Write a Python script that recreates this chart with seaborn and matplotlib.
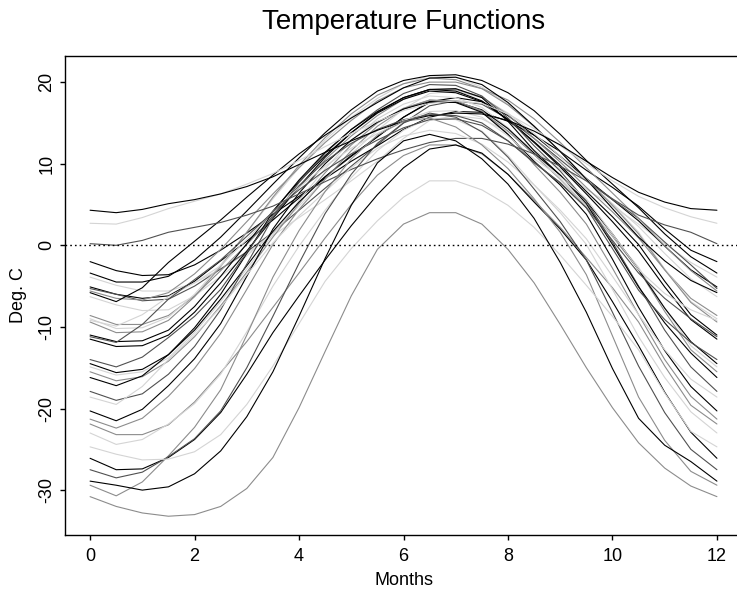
import matplotlib
matplotlib.use("Agg")
import matplotlib.pyplot as plt
import seaborn as sns
import pandas as pd

months = [0, 0.5, 1, 1.5, 2, 2.5, 3, 3.5, 4, 4.5, 5, 5.5, 6,
          6.5, 7, 7.5, 8, 8.5, 9, 9.5, 10, 10.5, 11, 11.5, 12]

st_johns = [-3.9, -4.9, -5.6, -5.6, -4.6, -2.9, -1.0, 1.2, 3.4, 5.6, 7.9, 10.3, 13.1, 15.3, 15.9, 15.5, 13.9, 11.7, 9.3, 6.9, 4.8, 2.6, 0.2, -2.1, -3.9]
halifax = [-5.1, -6.0, -6.5, -6.2, -4.4, -1.9, 0.5, 3.1, 5.8, 8.4, 10.9, 13.3, 15.7, 17.6, 18.1, 17.6, 15.9, 13.5, 10.9, 8.2, 5.6, 3.0, -0.1, -3.0, -5.1]
sydney = [-5.3, -6.0, -6.8, -6.6, -5.0, -2.9, -0.8, 1.6, 4.3, 7.0, 9.7, 12.3, 15.0, 17.1, 17.7, 17.3, 15.5, 13.1, 10.5, 7.9, 5.6, 3.3, 0.4, -2.4, -5.3]
yarmouth = [-2.0, -3.1, -3.7, -3.6, -2.4, -0.6, 1.5, 3.8, 6.0, 8.2, 10.3, 12.2, 14.2, 15.7, 16.4, 16.3, 15.2, 13.5, 11.5, 9.2, 7.1, 4.8, 2.0, -0.6, -2.0]
charlottetown = [-6.3, -7.3, -8.0, -7.9, -6.2, -3.8, -1.3, 1.6, 4.8, 8.1, 11.2, 14.1, 16.7, 18.6, 18.9, 18.1, 16.2, 13.7, 10.9, 7.9, 5.1, 2.3, -1.0, -4.1, -6.3]
fredericton = [-8.6, -9.7, -9.7, -8.6, -6.2, -3.1, 0.1, 3.5, 7.1, 10.5, 13.4, 15.9, 17.9, 19.1, 19.1, 18.2, 16.0, 13.1, 10.2, 7.1, 4.1, 0.9, -3.0, -6.5, -8.6]
scheffervll = [-21.9, -23.2, -23.2, -22.0, -19.2, -15.6, -11.8, -7.6, -3.4, 0.9, 5.0, 8.6, 11.0, 12.3, 12.3, 11.2, 8.7, 5.5, 2.2, -1.5, -5.2, -9.4, -14.8, -19.6, -21.9]
arvida = [-15.5, -16.6, -16.1, -14.2, -11.2, -7.4, -3.3, 1.0, 5.1, 8.9, 12.3, 15.0, 16.8, 17.8, 17.6, 16.4, 14.0, 11.1, 8.1, 4.8, 1.1, -3.0, -8.1, -12.8, -15.5]
bagottville = [-14.9, -15.9, -15.5, -13.8, -10.7, -6.9, -2.9, 1.3, 5.5, 9.4, 12.8, 15.5, 17.3, 18.3, 18.1, 16.9, 14.4, 11.3, 8.2, 4.8, 1.2, -2.7, -7.7, -12.3, -14.9]
quebec = [-11.5, -12.4, -12.3, -11.0, -8.2, -4.6, -0.7, 3.3, 7.2, 10.8, 13.8, 16.3, 18.1, 19.1, 18.9, 17.7, 15.4, 12.6, 9.6, 6.3, 2.9, -0.7, -5.1, -9.1, -11.5]
sherbrooke = [-11.0, -11.8, -11.7, -10.4, -7.5, -3.8, 0.2, 4.2, 7.8, 11.0, 13.8, 16.2, 17.9, 18.9, 18.7, 17.6, 15.4, 12.7, 9.8, 6.6, 3.5, 0.1, -4.4, -8.5, -11.0]
montreal = [-9.0, -10.2, -10.1, -8.8, -6.0, -2.4, 1.6, 5.7, 9.5, 12.9, 15.7, 18.0, 19.8, 20.8, 20.6, 19.4, 17.3, 14.5, 11.5, 8.2, 5.0, 1.6, -2.9, -6.9, -9.0]
ottawa = [-9.4, -10.7, -10.6, -9.2, -6.3, -2.6, 1.6, 5.9, 9.8, 13.2, 16.1, 18.4, 19.8, 20.5, 20.3, 19.2, 17.2, 14.6, 11.5, 8.1, 4.9, 1.4, -3.0, -7.0, -9.4]
toronto = [-3.4, -4.5, -4.5, -3.8, -1.8, 1.0, 4.2, 7.5, 10.7, 13.8, 16.6, 18.9, 20.2, 20.8, 20.9, 20.2, 18.7, 16.5, 13.6, 10.4, 7.5, 4.6, 1.4, -1.4, -3.4]
london = [-5.6, -6.5, -6.7, -5.8, -3.5, -0.5, 2.9, 6.3, 9.5, 12.6, 15.3, 17.7, 19.3, 20.0, 20.0, 19.2, 17.8, 15.5, 12.6, 9.5, 6.4, 3.3, -0.1, -3.1, -5.6]
thunder_bay = [-14.5, -15.6, -15.2, -13.4, -10.4, -6.6, -2.5, 1.7, 5.3, 8.4, 11.0, 13.3, 15.7, 17.5, 17.6, 16.6, 14.3, 11.3, 8.6, 5.4, 1.4, -3.0, -7.7, -11.8, -14.5]
winnipeg = [-17.9, -19.0, -18.2, -15.8, -12.4, -7.9, -2.3, 3.4, 7.7, 11.3, 14.2, 16.6, 18.6, 19.7, 19.6, 18.3, 15.6, 12.2, 9.1, 5.4, 0.4, -5.0, -10.4, -14.9, -17.9]
the_pas = [-21.3, -22.4, -21.2, -18.5, -15.1, -10.8, -5.4, 0.1, 4.4, 8.1, 11.6, 14.6, 16.7, 17.8, 17.7, 16.5, 13.6, 9.9, 6.5, 2.6, -2.8, -8.5, -14.0, -18.5, -21.3]
churchill = [-26.1, -27.5, -27.4, -26.0, -23.8, -20.5, -15.8, -10.7, -6.2, -1.8, 2.4, 6.2, 9.5, 11.8, 12.3, 11.3, 8.7, 5.3, 2.0, -1.8, -6.9, -12.3, -18.0, -22.9, -26.1]
regina = [-16.2, -17.2, -16.0, -13.4, -10.1, -6.0, -1.0, 4.1, 8.0, 11.4, 14.2, 16.4, 18.1, 19.1, 19.2, 18.1, 15.2, 11.6, 8.6, 5.1, 0.1, -5.1, -9.5, -13.2, -16.2]
pr_albert = [-20.3, -21.5, -20.1, -17.2, -13.9, -9.6, -3.8, 2.0, 6.4, 10.0, 12.9, 15.1, 16.7, 17.6, 17.5, 16.3, 13.6, 10.3, 7.4, 3.8, -1.7, -7.6, -12.9, -17.3, -20.3]
uranium_city = [-23.0, -24.4, -23.8, -21.9, -19.4, -15.8, -10.6, -5.0, -0.1, 4.3, 8.3, 11.6, 14.1, 15.6, 15.4, 14.0, 11.0, 7.4, 4.0, 0.1, -5.4, -11.2, -16.2, -20.4, -23.0]
edmonton = [-14.0, -14.9, -13.7, -11.3, -8.7, -5.4, -0.9, 3.7, 7.3, 10.3, 12.5, 14.2, 15.4, 16.0, 15.9, 15.0, 12.8, 10.1, 7.7, 4.6, -0.4, -5.5, -9.1, -11.9, -14.0]
calgary = [-9.2, -9.9, -8.5, -6.3, -4.6, -2.5, 0.7, 4.1, 7.1, 9.7, 11.9, 13.7, 15.3, 16.4, 16.5, 15.7, 13.4, 10.6, 8.4, 5.7, 1.4, -3.0, -5.9, -7.9, -9.2]
kamloops = [-5.8, -6.9, -5.2, -2.1, 0.5, 3.1, 5.9, 8.6, 11.2, 13.5, 15.6, 17.5, 19.3, 20.5, 20.6, 19.7, 17.5, 14.6, 11.5, 8.1, 4.5, 1.0, -1.9, -4.3, -5.8]
vancouver = [2.7, 2.6, 3.4, 4.5, 5.4, 6.3, 7.5, 8.8, 10.4, 12.1, 13.7, 15.2, 16.5, 17.4, 17.7, 17.4, 16.1, 14.3, 12.2, 10.0, 7.9, 6.0, 4.6, 3.5, 2.7]
victoria = [4.3, 4.0, 4.4, 5.1, 5.6, 6.3, 7.2, 8.4, 9.9, 11.4, 12.8, 14.1, 15.2, 15.9, 16.2, 16.1, 15.3, 14.0, 12.3, 10.3, 8.3, 6.5, 5.3, 4.5, 4.3]
pr_george = [-11.2, -11.9, -9.7, -6.6, -4.2, -1.8, 1.1, 4.1, 6.8, 9.2, 11.2, 12.9, 14.4, 15.4, 15.5, 14.7, 12.8, 10.2, 7.6, 4.6, 0.6, -3.4, -6.5, -9.0, -11.2]
pr_rupert = [0.2, 0.0, 0.6, 1.6, 2.2, 2.8, 3.7, 4.8, 6.3, 7.8, 9.3, 10.6, 11.7, 12.6, 13.1, 13.1, 12.4, 11.2, 9.7, 7.9, 5.7, 3.7, 2.5, 1.6, 0.2]
whitehorse = [-18.6, -19.5, -17.3, -14.0, -11.0, -7.6, -3.6, 0.3, 3.6, 6.6, 9.5, 11.9, 13.4, 14.1, 13.7, 12.4, 10.2, 7.4, 4.3, 0.8, -3.8, -8.5, -12.8, -16.4, -18.6]
dawson = [-29.4, -30.7, -29.0, -25.8, -22.3, -17.7, -11.0, -3.9, 1.8, 6.6, 10.6, 13.5, 15.2, 15.6, 14.5, 12.3, 9.4, 5.7, 1.6, -3.6, -11.1, -18.6, -23.9, -27.7, -29.4]
yellowknife = [-27.5, -28.5, -27.8, -25.9, -23.7, -20.3, -15.0, -8.7, -2.2, 3.9, 8.7, 12.5, 15.0, 16.2, 15.7, 13.9, 10.8, 6.9, 2.9, -1.8, -8.2, -14.8, -20.5, -25.0, -27.5]
iqaluit = [-24.7, -25.6, -26.3, -26.2, -25.3, -23.2, -19.5, -14.8, -9.6, -4.4, -0.4, 3.0, 5.9, 7.9, 7.9, 6.8, 4.9, 2.2, -1.2, -4.9, -8.7, -12.8, -18.1, -22.8, -24.7]
inuvik = [-28.9, -29.4, -30.0, -29.6, -28.0, -25.2, -21.0, -15.5, -8.7, -1.6, 4.9, 10.1, 12.8, 13.6, 12.8, 10.6, 7.5, 3.3, -2.1, -8.2, -15.1, -21.2, -24.5, -26.5, -28.9]
resolute = [-30.8, -32.0, -32.8, -33.2, -33.0, -32.0, -29.8, -26.0, -19.9, -13.0, -6.2, -0.5, 2.6, 4.0, 4.0, 2.6, -0.5, -4.6, -9.7, -15.0, -19.9, -24.2, -27.3, -29.5, -30.8]

stations = ["St. Johns", "Halifax", "Sydney", "Yarmouth", "Charlottetown",
            "Fredericton", "Scheffervll", "Arvida", "Bagottville", "Quebec",
            "Sherbrooke", "Montreal", "Ottawa", "Toronto", "London",
            "Thunder Bay", "Winnipeg", "The Pas", "Churchill", "Regina",
            "Pr. Albert", "Uranium City", "Edmonton", "Calgary", "Kamloops",
            "Vancouver", "Victoria", "Pr. George", "Pr. Rupert", "Whitehorse",
            "Dawson", "Yellowknife", "Iqaluit", "Inuvik", "Resolute"]
series = [st_johns, halifax, sydney, yarmouth, charlottetown,
          fredericton, scheffervll, arvida, bagottville, quebec,
          sherbrooke, montreal, ottawa, toronto, london,
          thunder_bay, winnipeg, the_pas, churchill, regina,
          pr_albert, uranium_city, edmonton, calgary, kamloops,
          vancouver, victoria, pr_george, pr_rupert, whitehorse,
          dawson, yellowknife, iqaluit, inuvik, resolute]

BLACK, DARK, GRAY, LIGHT = "#000000", "#505050", "#8c8c8c", "#d4d4d4"
line_colors = [LIGHT, BLACK, DARK, BLACK, LIGHT,
               GRAY, GRAY, GRAY, LIGHT, BLACK,
               BLACK, LIGHT, GRAY, BLACK, GRAY,
               BLACK, DARK, GRAY, BLACK, BLACK,
               BLACK, LIGHT, DARK, LIGHT, BLACK,
               LIGHT, BLACK, DARK, DARK, LIGHT,
               GRAY, DARK, LIGHT, BLACK, GRAY]

rows = []
for name, vals in zip(stations, series):
    for m, v in zip(months, vals):
        rows.append({"station": name, "month": m, "temp": v})
df = pd.DataFrame(rows)

sns.set_style("white")
plt.rcParams["font.family"] = ["Liberation Sans", "DejaVu Sans"]
plt.rcParams["text.color"] = "black"
plt.rcParams["axes.labelcolor"] = "black"
plt.rcParams["xtick.color"] = "black"
plt.rcParams["ytick.color"] = "black"

fig = plt.figure(figsize=(7.37, 5.92), dpi=100)
ax = fig.add_axes([0.0882, 0.0963, 0.9186, 0.8091])

sns.lineplot(data=df, x="month", y="temp", hue="station", hue_order=stations,
             palette=dict(zip(stations, line_colors)), estimator=None,
             sort=False, legend=False, linewidth=0.8, ax=ax)

ax.axhline(0, color="black", linestyle=(0, (1.2, 2.2)), linewidth=1.0)

ax.set_xlim(-0.48, 12.48)
ax.set_ylim(-35.5, 23.2)
ax.set_xticks([0, 2, 4, 6, 8, 10, 12])
ax.set_yticks([-30, -20, -10, 0, 10, 20])
ax.set_yticklabels(["-30", "-20", "-10", "0", "10", "20"], rotation=90, va="center")
ax.tick_params(axis="both", direction="out", length=3.6, width=1, labelsize=13,
               color="black", labelcolor="black", bottom=True, left=True)
ax.tick_params(axis="x", pad=5.5)
ax.tick_params(axis="y", pad=3.5)
for s in ["left", "bottom", "top"]:
    ax.spines[s].set_color("black")
    ax.spines[s].set_linewidth(1.0)
ax.spines["right"].set_visible(False)

ax.set_xlabel("Months", fontsize=13, labelpad=5, color="black")
ax.set_ylabel("Deg. C", fontsize=13, labelpad=8, color="black")
fig.text(0.548, 0.962, "Temperature Functions", fontsize=20, ha="center",
         va="center", color="black")

fig.savefig("out.png", dpi=100, facecolor="white")
